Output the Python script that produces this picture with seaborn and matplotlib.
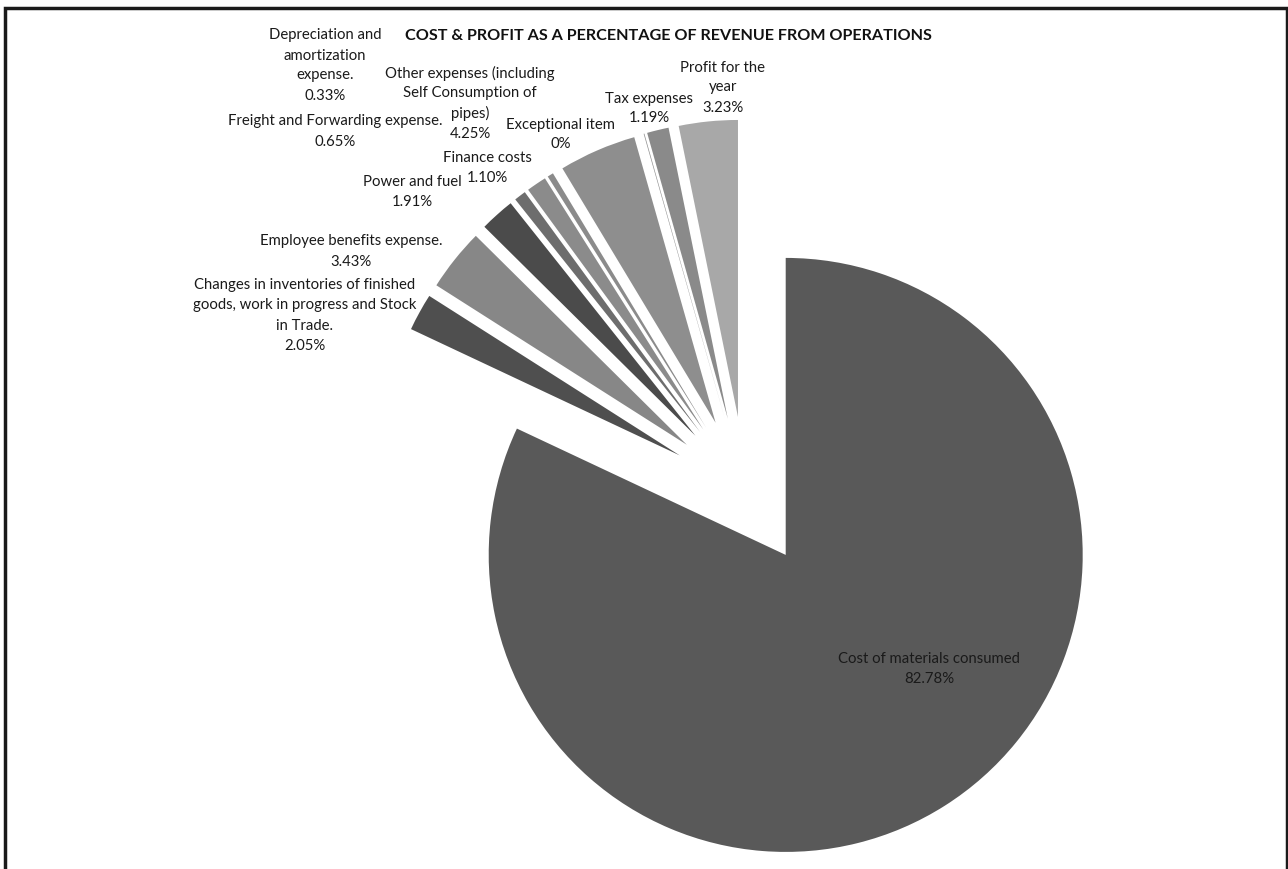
import matplotlib
matplotlib.use("Agg")
import matplotlib.pyplot as plt
import matplotlib.patches as mpatches
import seaborn as sns

# data (clockwise from 12 o'clock)
categories = [
    "Cost of materials consumed",
    "Changes in inventories of finished\ngoods, work in progress and Stock\nin Trade.",
    "Employee benefits expense.",
    "Power and fuel",
    "Freight and Forwarding expense.",
    "Finance costs",
    "Depreciation and\namortization\nexpense.",
    "Other expenses (including\nSelf Consumption of\npipes)",
    "Exceptional item",
    "Tax expenses",
    "Profit for the\nyear",
]
values = [82.78, 2.05, 3.43, 1.91, 0.65, 1.10, 0.33, 4.25, 0.04, 1.19, 3.23]
colors = ["#595959", "#4f4f4f", "#878787", "#4b4b4b", "#6d6d6d", "#8b8b8b",
          "#8b8b8b", "#8e8e8e", "#909090", "#8a8a8a", "#a8a8a8"]

# label block centres in pixels (layout only)
label_pos = [(929, 668), (305, 314), (351, 250), (412, 191), (335, 130),
             (487, 166), (325, 64), (470, 102), (561, 133), (649, 107), (723, 86)]
line_gap = 20

W, H = 1288, 870
sns.set_style("white")
plt.rcParams["font.family"] = ["Lato", "DejaVu Sans"]

fig = plt.figure(figsize=(W / 100, H / 100), dpi=100)
ax = fig.add_axes([0, 0, 1, 1])

ax.pie(values, colors=colors, startangle=90, counterclock=False,
       center=(745.5, H - 492.6), radius=297, explode=[75] * len(values),
       wedgeprops=dict(linewidth=0))
ax.set_xlim(0, W)
ax.set_ylim(0, H)
ax.set_aspect("equal")
ax.axis("off")

# one text per line so the spacing is even, like the original
for cat, v, (px, py) in zip(categories, values, label_pos):
    pct = "0%" if v < 0.05 else f"{v:.2f}%"
    lines = cat.split("\n") + [pct]
    n = len(lines)
    for i, line in enumerate(lines):
        y = py + (i - (n - 1) / 2) * line_gap
        ax.text(px, H - y, line, ha="center", va="center_baseline",
                fontsize=10.7, color="#1a1a1a")

ax.text(668, H - 36, "COST & PROFIT AS A PERCENTAGE OF REVENUE FROM OPERATIONS",
        ha="center", va="center", fontsize=11.6, fontweight="bold", color="#111111")

# chart frame
fig.patches.append(mpatches.Rectangle((5 / W, -0.05), 1282 / W, 1.05 - 9 / H,
                                      transform=fig.transFigure, fill=False,
                                      edgecolor="#1a1a1a", linewidth=2.5))

fig.savefig("out.png", dpi=100)
